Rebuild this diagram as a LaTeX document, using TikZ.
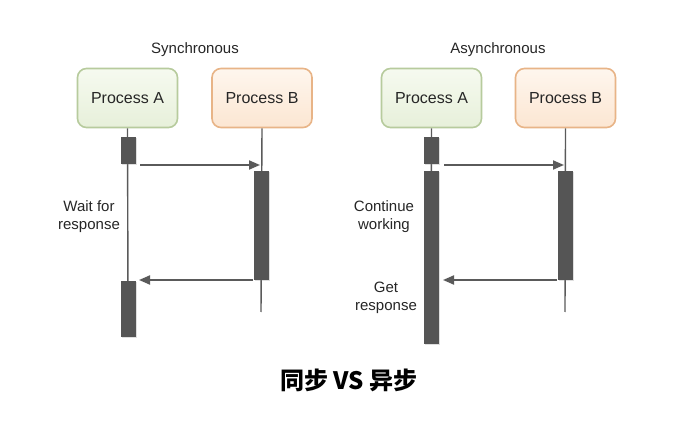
\documentclass[tikz,border=0pt]{standalone}
\usepackage{fontspec}
\setmainfont{Liberation Sans}
\newfontfamily\cjk{Noto Sans CJK SC}
\usetikzlibrary{arrows.meta,shadows}
\definecolor{lineg}{HTML}{5A5A5A}
\definecolor{actg}{HTML}{555555}
\definecolor{gfillT}{HTML}{F6FAF0}
\definecolor{gfillB}{HTML}{E7F0DA}
\definecolor{gdraw}{HTML}{B7CB9D}
\definecolor{ofillT}{HTML}{FEF6EE}
\definecolor{ofillB}{HTML}{FCE6D2}
\definecolor{odraw}{HTML}{E8B487}
\tikzset{
  x=1pt, y=-1pt,
  procA/.style={draw=gdraw, line width=1.6pt, rounded corners=9pt, top color=gfillT, bottom color=gfillB,
    minimum width=100pt, minimum height=59pt, font=\fontsize{16}{18}\selectfont, text=black!85},
  procB/.style={procA, draw=odraw, top color=ofillT, bottom color=ofillB},
  act/.style={fill=actg, draw=none, minimum width=15pt, inner sep=0pt, anchor=north,
    drop shadow={shadow xshift=1pt, shadow yshift=-1pt, opacity=0.25}},
  life/.style={draw=lineg, line width=1.4pt},
  msg/.style={draw=lineg, line width=1.9pt, -{Triangle[length=11pt,width=9pt]}},
  lbl/.style={font=\fontsize{15}{18}\selectfont, text=black!85, align=center},
}
\begin{document}
\begin{tikzpicture}
\useasboundingbox[fill=white] (0,0) rectangle (680,430);

% ---------- Synchronous ----------
\node[lbl] (t1) at (195,50) {Synchronous};
\node[procA] (sa) at (127.5,98) {Process A};
\node[procB] (sb) at (262,98) {Process B};
\coordinate (sbend) at (261,312);
\coordinate (saend) at (128,300);
\draw[life] (sa.south) -- (saend);
\draw[life] (sb.south) -- (sbend);
\node[act, minimum height=27pt] (sa1) at (128,137) {};
\node[act, minimum height=109pt] (sb1) at (261,171) {};
\node[act, minimum height=56pt] (sa2) at (128,281) {};
\coordinate (s1s) at (140,165);
\coordinate (s1e) at (260,165);
\coordinate (s2s) at (253,280);
\coordinate (s2e) at (139,280);
\draw[msg] (s1s) -- (s1e);
\draw[msg] (s2s) -- (s2e);
\node[lbl] (w) at (89,217) {Wait for\\response};

% ---------- Asynchronous ----------
\node[lbl] (t2) at (498,50) {Asynchronous};
\node[procA] (aa) at (431.5,98) {Process A};
\node[procB] (ab) at (565.5,98) {Process B};
\coordinate (abend) at (565,312);
\coordinate (aaend) at (431,300);
\draw[life] (aa.south) -- (aaend);
\draw[life] (ab.south) -- (abend);
\node[act, minimum height=27pt] (aa1) at (431,137) {};
\node[act, minimum height=173pt] (aa2) at (431,171) {};
\node[act, minimum height=109pt] (ab1) at (565,171) {};
\coordinate (a1s) at (444,165);
\coordinate (a1e) at (564,165);
\coordinate (a2s) at (557,280);
\coordinate (a2e) at (443,280);
\draw[msg] (a1s) -- (a1e);
\draw[msg] (a2s) -- (a2e);
\node[lbl] (cw) at (384,217) {Continue\\working};
\node[lbl] (gr) at (386,298) {Get\\response};

% ---------- Title ----------
\node[font=\cjk\bfseries\fontsize{24}{28}\selectfont, text=black] (title) at (349,380) {同步 VS 异步};
\end{tikzpicture}
\end{document}
